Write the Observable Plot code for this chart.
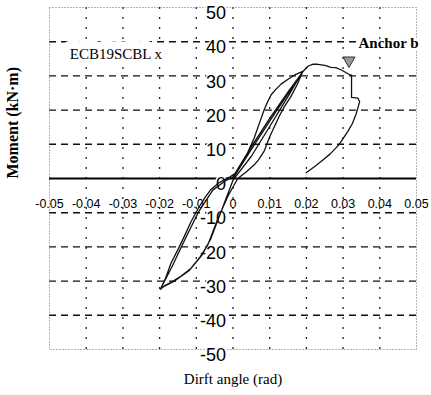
<!DOCTYPE html>
<html>
<head>
<meta charset="utf-8">
<script src="https://cdn.jsdelivr.net/npm/d3@7"></script>
<script src="https://cdn.jsdelivr.net/npm/@observablehq/plot@0.6"></script>
<style>
  html, body { margin: 0; padding: 0; background: #fff; overflow: hidden; }
</style>
</head>
<body>
<div id="chart"></div>
<script>
// Drift angle (rad) and moment (kN·m) of the hysteresis path, in test order
const drift = [
  0, 0.005, 0.010, 0.015, 0.019,
  0.0175, 0.0158, 0.0140, 0.0126, 0.0112, 0.0100, 0.0085, 0.0070, 0.0058, 0.0035, 0.0013,
  -0.0014, -0.0042, -0.0069, -0.0090, -0.0115, -0.0142, -0.0170, -0.0187, -0.0198,
  -0.0185, -0.0169, -0.0150, -0.0133, -0.0115, -0.0096, -0.0078, -0.0060, -0.0040, -0.0024, -0.0008, 0.001,
  0.003, 0.0058, 0.0072, 0.0085, 0.0095, 0.0104, 0.0118, 0.0131, 0.0150, 0.0167, 0.019,
  0.015, 0.010, 0.005, 0.0,
  -0.0030, -0.0060, -0.0085, -0.0120, -0.0160, -0.0196,
  -0.0165, -0.0130, -0.0093, -0.0055, -0.0020, 0.0,
  0.005, 0.010, 0.015, 0.019,
  0.0205, 0.0217, 0.0231, 0.0250, 0.0267, 0.0280, 0.0294, 0.0317, 0.0323,
  0.0323, 0.0340, 0.0345, 0.0340, 0.0335, 0.0325, 0.0313, 0.0289, 0.0265, 0.0240, 0.0220, 0.0199
];
const moment = [
  0, 8.5, 16.8, 24.8, 31.2,
  27.5, 24.0, 21.0, 18.2, 15.0, 12.2, 8.0, 5.5, 4.0, 1.8, 0,
  -5.2, -12.0, -19.5, -23.0, -26.3, -28.6, -30.4, -31.4, -32.4,
  -29.5, -24.8, -20.8, -17.0, -12.8, -9.0, -5.8, -3.2, -1.4, -0.4, 0.5, 1.8,
  5.2, 11.9, 16.2, 20.1, 22.6, 24.5, 26.2, 27.6, 29.0, 30.2, 31.3,
  24.0, 15.2, 6.5, -0.5,
  -9.0, -17.5, -22.5, -27.0, -30.0, -32.0,
  -25.5, -17.6, -9.6, -3.4, -0.6, 0.5,
  9.3, 17.6, 25.3, 31.2,
  32.9, 33.4, 33.4, 33.1, 32.5, 32.4, 31.8, 30.4, 30.2,
  23.7, 23.5, 22.5, 20.5, 18.7, 16.0, 13.8, 9.9, 7.2, 5.0, 3.3, 1.7
];

const xTicks = [-0.05, -0.04, -0.03, -0.02, -0.01, 0, 0.01, 0.02, 0.03, 0.04, 0.05];
const xTickLabels = ["-0.05", "-0.04", "-0.03", "-0.02", "-0.01", "0", "0.01", "0.02", "0.03", "0.04", "0.05"];
const yTicks = [50, 40, 30, 20, 10, 0, -10, -20, -30, -40, -50];
const yTickLabels = ["50", "40", "30", "20", "10", "0", "-10", "-20", "-30", "-40", "-50"];
const xGrid = [-0.04, -0.03, -0.02, -0.01, 0, 0.01, 0.02, 0.03, 0.04];
const yGrid = [40, 30, 20, 10, -10, -20, -30, -40];
const xLabelRow = -7.5;   // moment level where the drift tick labels sit

const anchorMark = [{x: 0.0316, y: 34.5}];
const specimen = [{x: -0.0319, y: 36.3, t: "ECB19SCBL x"}];
const anchorNote = [{x: 0.0342, y: 39.6, t: "Anchor b"}];

const pts = drift.map((d, i) => ({x: d, y: moment[i]}));
const xLab = xTicks.map((v, i) => ({x: v, y: xLabelRow, t: xTickLabels[i]}));
const yLab = yTicks.map((v, i) => ({x: 0, y: v, t: yTickLabels[i]}));

const serif = "Liberation Serif, Times New Roman, serif";
const sans = "Liberation Sans, Arial, sans-serif";

const chart = Plot.plot({
  width: 431,
  height: 395,
  marginLeft: 49,
  marginRight: 15,
  marginTop: 7,
  marginBottom: 46,
  style: {background: "#fff", color: "#000"},
  x: {domain: [-0.05, 0.05], axis: null},
  y: {domain: [-50, 50], axis: null},
  marks: [
    Plot.ruleY(yGrid, {stroke: "#111", strokeWidth: 1.4, strokeDasharray: "7,5"}),
    Plot.ruleX(xGrid, {stroke: "#222", strokeWidth: 1.3, strokeDasharray: "2,8"}),
    Plot.frame({stroke: "#666", strokeWidth: 1, strokeDasharray: "1,2"}),
    Plot.ruleY([0], {stroke: "#000", strokeWidth: 2}),
    Plot.text(yLab, {x: "x", y: "y", text: "t", textAnchor: "end", dx: -7, dy: 6,
      fontSize: 18, fontFamily: sans, fill: "#000", stroke: "#fff", strokeWidth: 3}),
    Plot.text(xLab, {x: "x", y: "y", text: "t", fontSize: 12.5,
      fontFamily: sans, fill: "#000"}),
    Plot.line(pts, {x: "x", y: "y", stroke: "#111", strokeWidth: 1.3, curve: "linear"}),
    Plot.dot(anchorMark, {x: "x", y: "y", symbol: "triangle", rotate: 180, r: 4.5,
      fill: "#9a9a9a", stroke: "#333", strokeWidth: 1}),
    Plot.text(specimen, {x: "x", y: "y", text: "t", fontSize: 15,
      fontFamily: serif, fill: "#000", stroke: "#fff", strokeWidth: 16}),
    Plot.text(anchorNote, {x: "x", y: "y", text: "t", textAnchor: "start", fontSize: 15,
      fontWeight: "bold", fontFamily: serif, fill: "#000", stroke: "#fff", strokeWidth: 5}),
    Plot.text(["Moment (kN·m)"], {frameAnchor: "left", dx: -37, rotate: -90, fontSize: 16,
      fontWeight: "bold", letterSpacing: 2.2, fontFamily: serif, fill: "#000"}),
    Plot.text(["Dirft angle (rad)"], {frameAnchor: "bottom", dy: 34, fontSize: 15,
      fontFamily: serif, fill: "#000"})
  ]
});
document.getElementById("chart").appendChild(chart);
</script>
</body>
</html>
